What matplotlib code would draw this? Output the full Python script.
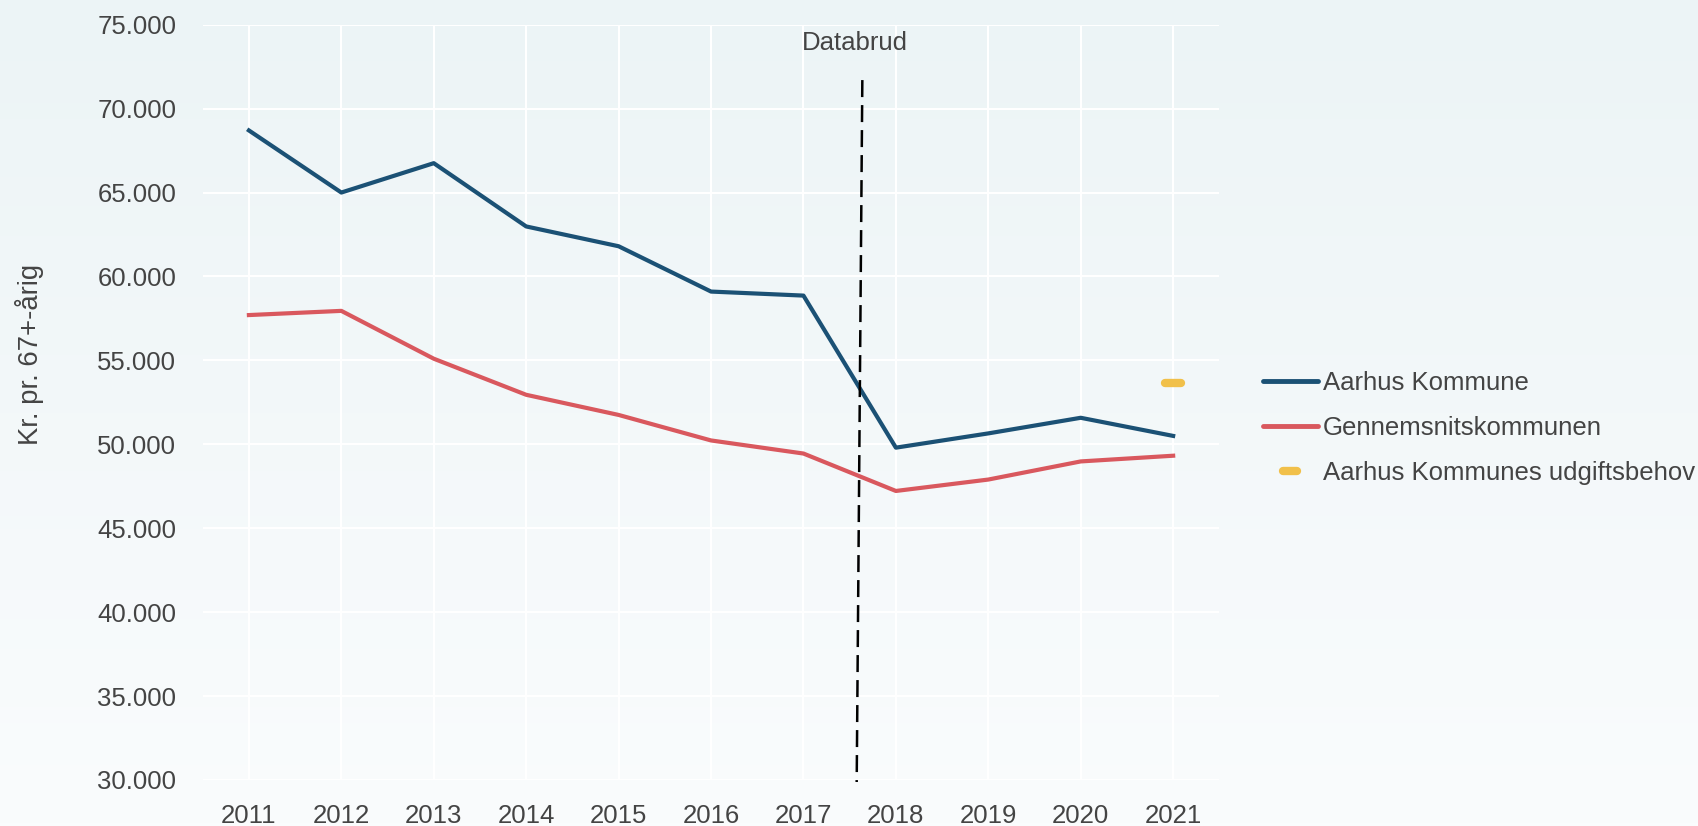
import matplotlib
matplotlib.use("Agg")
import matplotlib.pyplot as plt
import numpy as np
from matplotlib.lines import Line2D
from matplotlib.markers import MarkerStyle

plt.rcParams['font.family'] = ['Liberation Sans', 'DejaVu Sans']

years = [2011, 2012, 2013, 2014, 2015, 2016, 2017, 2018, 2019, 2020, 2021]
aarhus = [68700, 65000, 66750, 62980, 61800, 59100, 58860, 49800, 50650, 51580, 50500]
gennemsnit = [57700, 57950, 55100, 52950, 51750, 50230, 49450, 47220, 47900, 48980, 49320]
behov_year = [2021]
behov = [53650]

brud_x = [2017.637, 2017.576]
brud_y = [71700, 29880]
brud_label = "Databrud"

yticks = [30000, 35000, 40000, 45000, 50000, 55000, 60000, 65000, 70000, 75000]
ytick_labels = ["30.000", "35.000", "40.000", "45.000", "50.000", "55.000",
                "60.000", "65.000", "70.000", "75.000"]

c_blue = "#1b5175"
c_red = "#d9585e"
c_yellow = "#f1c04a"
c_text = "#444444"

fig = plt.figure(figsize=(16.99, 8.26), dpi=100)

# background gradient
bg = fig.add_axes([0, 0, 1, 1], zorder=-10)
grad = np.linspace(0, 1, 256).reshape(-1, 1)
top = np.array([0xec, 0xf4, 0xf6]) / 255
bot = np.array([0xfa, 0xfc, 0xfd]) / 255
img = top + (bot - top) * grad[:, :, None]
bg.imshow(img, aspect='auto', extent=[0, 1, 0, 1])
bg.axis('off')

ax = fig.add_axes([0.1193, 0.0557, 0.5984, 0.9144])
ax.set_facecolor('none')
for s in ax.spines.values():
    s.set_visible(False)

ax.set_xlim(2010.5, 2021.5)
ax.set_ylim(30000, 75000)
ax.set_xticks(years)
ax.set_xticklabels([str(y) for y in years])
ax.set_yticks(yticks)
ax.set_yticklabels(ytick_labels)
ax.tick_params(axis='both', length=0, labelsize=18.5, labelcolor=c_text)
ax.tick_params(axis='y', pad=19)
ax.tick_params(axis='x', pad=17)
ax.grid(True, color='white', linewidth=1.5)
ax.set_axisbelow(True)

ax.plot(years, aarhus, color=c_blue, lw=3, label="Aarhus Kommune", zorder=3)
ax.plot(years, gennemsnit, color=c_red, lw=3, label="Gennemsnitskommunen", zorder=3)
ms = MarkerStyle('_', capstyle='round')
ax.plot(behov_year, behov, linestyle='none', marker=ms, markersize=11,
        markeredgewidth=6, color=c_yellow, zorder=3)

ax.plot(brud_x, brud_y, color='black', lw=1.8, dashes=(6.8, 3.2), zorder=4, clip_on=False)
ax.text(2017.56, 73900, brud_label, ha='center', va='center', fontsize=18.5, color=c_text)

ax.set_ylabel("Kr. pr. 67+-årig", fontsize=19.8, color=c_text, va='center')
ax.yaxis.set_label_coords(-0.170, 0.564)

handles = [
    Line2D([], [], color=c_blue, lw=3.5, solid_capstyle='round'),
    Line2D([], [], color=c_red, lw=3.5, solid_capstyle='round'),
    Line2D([], [], linestyle='none', marker=ms, markersize=10, markeredgewidth=6, color=c_yellow),
]
labels = ["Aarhus Kommune", "Gennemsnitskommunen", "Aarhus Kommunes udgiftsbehov"]
fig.legend(handles, labels, loc='upper left', bbox_to_anchor=(0.7432, 0.5505),
           frameon=False, fontsize=18.5, handlelength=2.14, handletextpad=0.21,
           labelspacing=0.82, borderpad=0, borderaxespad=0, labelcolor=c_text)

fig.savefig("out.png", dpi=100)
